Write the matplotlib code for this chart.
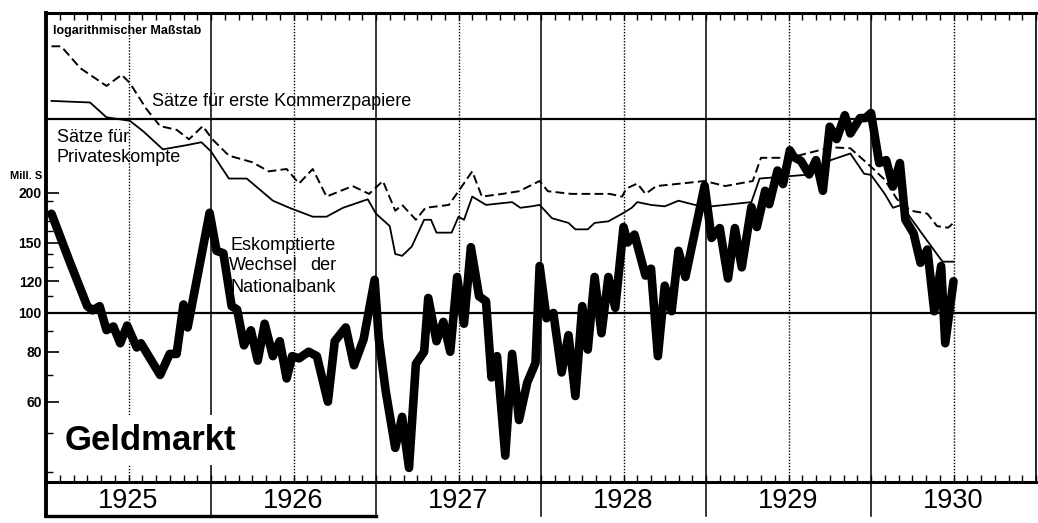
import numpy as np
import matplotlib
matplotlib.use("Agg")
import matplotlib.pyplot as plt
from matplotlib.ticker import FixedLocator, FixedFormatter, NullFormatter, MultipleLocator

plt.rcParams['font.family'] = ['Liberation Sans', 'DejaVu Sans']

# Eskomptierte Wechsel der Nationalbank (Mill. S), months since 1 Jan 1925
bill_months = [0.4, 1.7, 3.0, 3.4, 3.9, 4.4, 4.9, 5.4, 5.9, 6.6,
               6.9, 8.3, 9.0, 9.5, 10.0, 10.3, 11.9, 12.4, 12.9, 13.5,
               13.9, 14.4, 14.9, 15.4, 15.9, 16.5, 17.0, 17.5, 17.9, 18.4,
               19.1, 19.7, 20.5, 21.0, 21.8, 22.4, 23.1, 23.9, 24.2, 24.7,
               25.4, 25.9, 26.4, 26.9, 27.5, 27.8, 28.4, 28.9, 29.4, 29.9,
               30.4, 30.9, 31.5, 32.0, 32.4, 32.8, 33.4, 33.9, 34.4, 35.0,
               35.6, 35.9, 36.4, 36.9, 37.5, 38.0, 38.5, 39.0, 39.4, 39.9,
               40.4, 40.9, 41.4, 42.0, 42.3, 42.8, 43.6, 44.0, 44.5, 45.0,
               45.5, 46.0, 46.5, 47.9, 48.4, 49.0, 49.6, 50.1, 50.6, 51.3,
               51.7, 52.3, 52.6, 53.2, 53.6, 54.1, 54.4, 54.9, 55.5, 56.0,
               56.5, 57.0, 57.5, 58.1, 58.5, 59.2, 59.6, 60.0, 60.6, 61.1,
               61.6, 62.1, 62.5, 63.1, 63.6, 64.1, 64.6, 65.1, 65.4, 66.0]
bill_values = [177, 135, 104, 101.5, 104, 90.6, 92.5, 84, 93, 82,
               84, 70, 79, 79, 105, 92, 178, 143, 141, 104,
               102, 83, 90.5, 76, 94, 78, 85, 68.6, 78, 77,
               80, 78, 60, 85, 92, 74, 86, 121, 86.5, 64,
               46, 55, 41, 74.6, 80, 109, 85, 95, 80, 123,
               94, 146, 110, 107, 69, 78, 44, 79, 54, 67,
               75, 131, 97, 100, 71, 88, 62, 104, 81, 123,
               89, 123, 103, 164, 150, 157, 124, 129, 78, 117,
               101, 143, 123, 208, 154, 163, 122, 163, 130, 184,
               164, 202, 187, 227, 210, 255, 245, 240, 222, 241,
               202, 292, 272, 312, 281, 307, 307, 316, 237, 241,
               207, 237, 171, 158, 133.5, 144, 101, 131, 84, 120]

# Sätze für erste Kommerzpapiere (%)
comm_months = [0.4, 1.1, 2.5, 4.4, 5.5, 6.1, 7.3, 8.3, 9.5, 10.4,
               11.4, 12.1, 13.3, 15.0, 16.2, 17.5, 18.4, 19.4, 20.4, 22.3,
               23.5, 24.5, 25.4, 25.9, 26.9, 27.6, 29.3, 30.0, 31.0, 31.7,
               33.2, 34.4, 35.9, 36.5, 38.2, 40.2, 41.0, 41.9, 42.2, 43.0,
               43.6, 44.4, 46.2, 47.9, 49.4, 51.4, 52.0, 53.7, 54.7, 57.1,
               58.5, 60.0, 61.0, 61.9, 62.9, 64.1, 64.8, 65.6, 66.0]
comm_rates = [15.2, 15.2, 13.4, 12.1, 12.9, 12.3, 10.6, 9.6, 9.4, 8.9,
              9.6, 8.9, 8.1, 7.8, 7.4, 7.5, 6.9, 7.5, 6.4, 6.8,
              6.5, 7.0, 5.9, 6.1, 5.6, 6.0, 6.1, 6.6, 7.4, 6.4,
              6.5, 6.6, 7.0, 6.6, 6.5, 6.5, 6.5, 6.4, 6.7, 6.9,
              6.5, 6.8, 6.9, 7.0, 6.8, 7.0, 8.0, 8.0, 8.1, 8.5,
              8.45, 7.6, 7.05, 6.3, 5.9, 5.8, 5.4, 5.35, 5.5]

# Sätze für Privateskompte (%)
priv_months = [0.4, 3.2, 4.4, 6.1, 7.1, 8.5, 10.2, 11.3, 12.0, 13.3,
               14.6, 16.5, 17.7, 19.4, 20.4, 21.6, 23.4, 24.0, 25.0, 25.4,
               25.9, 26.6, 27.5, 28.0, 28.4, 29.5, 30.0, 30.4, 31.0, 32.0,
               33.9, 34.5, 35.3, 35.9, 36.8, 38.0, 38.5, 39.4, 39.9, 40.9,
               41.9, 42.6, 43.0, 44.0, 45.0, 46.0, 47.2, 48.4, 51.3, 51.9,
               55.2, 57.1, 58.5, 59.5, 60.0, 61.0, 61.6, 62.2, 63.4, 64.3,
               65.2, 66.0]
priv_rates = [11.1, 11.0, 10.1, 9.9, 9.3, 8.4, 8.6, 8.75, 8.3, 7.1,
              7.1, 6.25, 6.0, 5.7, 5.7, 6.0, 6.3, 5.8, 5.4, 4.6,
              4.55, 4.8, 5.6, 5.6, 5.2, 5.2, 5.7, 5.6, 6.4, 6.1,
              6.2, 6.0, 6.05, 6.1, 5.65, 5.5, 5.3, 5.3, 5.5, 5.55,
              5.8, 6.0, 6.2, 6.1, 6.05, 6.25, 6.1, 6.05, 6.2, 7.1,
              7.25, 7.9, 8.2, 7.3, 7.25, 6.5, 6.0, 6.1, 5.35, 4.85,
              4.4, 4.4]

years = ["1925", "1926", "1927", "1928", "1929", "1930"]
y_labels = [60, 80, 100, 120, 150, 200]
y_minor = [40, 50, 70, 90, 110, 130, 140, 160, 170, 180, 190]

assert len(bill_months) == len(bill_values)
assert len(comm_months) == len(comm_rates)
assert len(priv_months) == len(priv_rates)

W, H = 1038, 523
fig = plt.figure(figsize=(W / 100, H / 100), dpi=100)


def fx(px):
    return px / W


def fy(py):
    return 1 - py / H


ax = fig.add_axes([fx(46), fy(482), fx(1036) - fx(46), fy(13) - fy(482)])
ax.set_yscale('log')
ax.set_xlim(0, 72)
ax.set_ylim(37.8, 562)

# rate scale (same decade size, hidden)
rax = ax.twinx()
rax.set_yscale('log')
rax.set_ylim(1.238, 18.41)
rax.axis('off')

# grid: years solid, half-years dotted
for m in range(12, 72, 12):
    ax.axvline(m, color='k', lw=1.1, zorder=1)
for m in range(6, 72, 12):
    ax.axvline(m, color='k', lw=1.0, ls=(0, (1, 1.2)), zorder=1)
ax.axhline(100, color='k', lw=1.6, zorder=1)
rax.axhline(10, color='k', lw=1.6, zorder=1)

rax.plot(comm_months, comm_rates, color='k', lw=1.4, dashes=(4.5, 2.2))
rax.plot(priv_months, priv_rates, color='k', lw=1.3)
ax.plot(bill_months, bill_values, color='k', lw=6.2,
        solid_joinstyle='round', solid_capstyle='round', zorder=5)

for side, lw in [('left', 2.8), ('top', 2.2), ('bottom', 2.2), ('right', 1.2)]:
    ax.spines[side].set_linewidth(lw)

ax.xaxis.set_major_locator(MultipleLocator(1))
ax.tick_params(axis='x', which='major', direction='in', length=5, width=1,
               top=True, bottom=True, labelbottom=False)
ax.yaxis.set_major_locator(FixedLocator(y_labels))
ax.yaxis.set_major_formatter(FixedFormatter([str(v) for v in y_labels]))
ax.yaxis.set_minor_locator(FixedLocator(y_minor))
ax.yaxis.set_minor_formatter(NullFormatter())
ax.tick_params(axis='y', which='major', direction='in', length=9, width=1.2,
               labelsize=10, pad=3)
ax.tick_params(axis='y', which='minor', direction='in', length=5, width=1)
for lbl in ax.get_yticklabels():
    lbl.set_fontweight('bold')

# year strip
yax = fig.add_axes([fx(46), fy(516), fx(1036) - fx(46), fy(482) - fy(516)])
yax.set_xlim(0, 72)
yax.set_ylim(0, 1)
yax.axis('off')
for m in range(12, 72, 12):
    yax.plot([m, m], [0, 1], color='k', lw=1.1, clip_on=False)
yax.plot([0, 0], [0, 1], color='k', lw=2.8, clip_on=False)
yax.plot([0, 24], [0, 0], color='k', lw=2.4, clip_on=False)
for i, yr in enumerate(years):
    yax.text(12 * i + 6, 0.45, yr, ha='center', va='center', fontsize=19.5)

# texts
fig.text(fx(53), fy(31), "logarithmischer Maßstab", fontsize=9,
         fontweight='bold', ha='left', va='center')
fig.text(fx(152), fy(102), "Sätze für erste Kommerzpapiere", fontsize=13,
         ha='left', va='center')
fig.text(fx(57), fy(138), "Sätze für", fontsize=13, ha='left', va='center')
fig.text(fx(57), fy(158), "Privateskompte", fontsize=13, ha='left', va='center')
fig.text(fx(336), fy(246), "Eskomptierte", fontsize=13, ha='right', va='center')
fig.text(fx(229), fy(266), "Wechsel", fontsize=13, ha='left', va='center')
fig.text(fx(336), fy(266), "der", fontsize=13, ha='right', va='center')
fig.text(fx(336), fy(287), "Nationalbank", fontsize=13, ha='right', va='center')
fig.text(fx(42), fy(176), "Mill. S", fontsize=8, fontweight='bold',
         ha='right', va='center')
fig.text(fx(65), fy(440), "Geldmarkt", fontsize=25, fontweight='bold',
         ha='left', va='center',
         bbox=dict(facecolor='white', edgecolor='none', pad=6))

fig.savefig("out.png", dpi=100)
